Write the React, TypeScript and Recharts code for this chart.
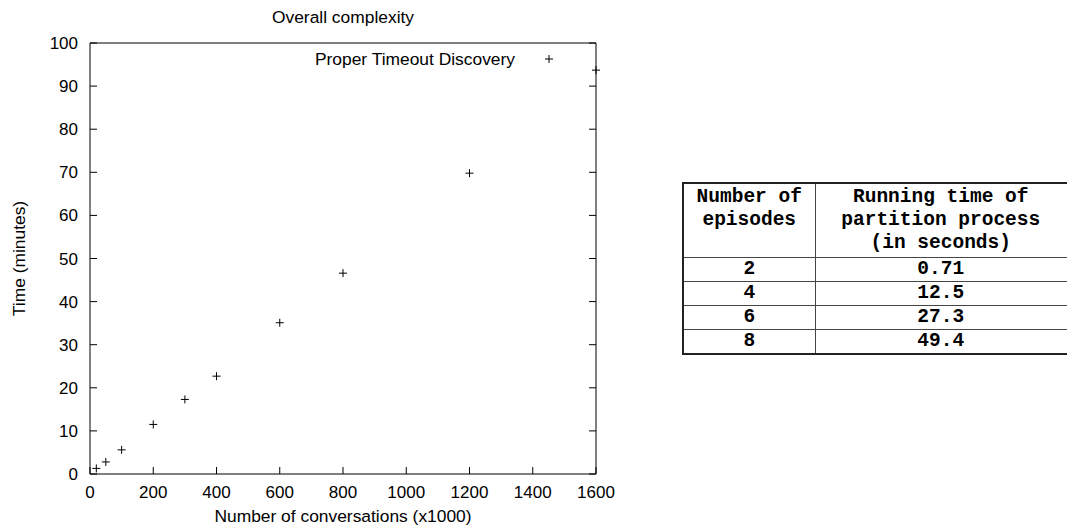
import React from "react";
import { ScatterChart, Scatter, XAxis, YAxis, Legend } from "recharts";

// measured values (x1000 conversations -> minutes)
const conversations = [20, 50, 100, 200, 300, 400, 600, 800, 1200, 1600];
const minutes = [1.3, 2.8, 5.6, 11.5, 17.3, 22.7, 35.1, 46.6, 69.8, 93.7];

const xTicks = [0, 200, 400, 600, 800, 1000, 1200, 1400, 1600];
const yTicks = [0, 10, 20, 30, 40, 50, 60, 70, 80, 90, 100];

// side table
const episodes = ["2", "4", "6", "8"];
const partitionSeconds = ["0.71", "12.5", "27.3", "49.4"];

const data = conversations.map((x, i) => ({ x, y: minutes[i] }));

const sans = '"Liberation Sans", Arial, Helvetica, sans-serif';
const mono = '"Liberation Mono", "Courier New", Courier, monospace';

const Plus = (props: any) => {
  const { cx, cy } = props;
  return (
    <g>
      <line x1={cx - 4} y1={cy} x2={cx + 4} y2={cy} stroke="#000" strokeWidth={1} />
      <line x1={cx} y1={cy - 4} x2={cx} y2={cy + 4} stroke="#000" strokeWidth={1} />
    </g>
  );
};

// mirrored axes: keep the tick marks, drop the numbers
const NoLabel = () => <g />;

const KeyContent = (props: any) => {
  const name = props.payload && props.payload.length ? props.payload[0].value : "";
  return (
    <div style={{ display: "flex", alignItems: "center", fontFamily: sans, fontSize: 17.4, lineHeight: "22px", color: "#000" }}>
      <span style={{ width: 215, textAlign: "right", whiteSpace: "nowrap" }}>{name}</span>
      <svg width={14} height={14} style={{ marginLeft: 27 }}>
        <line x1={3} y1={7} x2={11} y2={7} stroke="#000" />
        <line x1={7} y1={3} x2={7} y2={11} stroke="#000" />
      </svg>
    </div>
  );
};

const YLabel = (props: any) => {
  const vb = props.viewBox || { x: 0, y: 43, width: 90, height: 431 };
  const x = vb.x + 19;
  const y = vb.y + vb.height / 2;
  return (
    <text
      x={x}
      y={y}
      transform={`rotate(-90, ${x}, ${y})`}
      textAnchor="middle"
      dominantBaseline="central"
      fill="#000"
      fontSize={17.4}
      fontFamily={sans}
    >
      Time (minutes)
    </text>
  );
};

const axisLine = { stroke: "#000", strokeWidth: 1 };
const tickLine = { stroke: "#000", strokeWidth: 1 };
const tickStyle = { fill: "#000", fontSize: 17, fontFamily: sans };

const cellBorder = "1px solid #444";

export default function App() {
  return (
    <div
      style={{
        position: "absolute",
        left: 0,
        top: 0,
        width: 1067,
        height: 527,
        overflow: "hidden",
        background: "#fff",
        fontFamily: sans,
      }}
    >
      <ScatterChart width={620} height={527} margin={{ top: 42, right: 23, bottom: 0, left: 0 }}>
        <XAxis
          dataKey="x"
          type="number"
          domain={[0, 1600]}
          ticks={xTicks}
          interval={0}
          height={53}
          tickSize={-7}
          tickMargin={18.5}
          axisLine={axisLine}
          tickLine={tickLine}
          tick={tickStyle}
          label={{ value: "Number of conversations (x1000)", position: "insideBottom", offset: 5, fill: "#000", fontSize: 17.4 }}
        />
        <XAxis
          xAxisId="top"
          orientation="top"
          type="number"
          domain={[0, 1600]}
          allowDataOverflow
          ticks={xTicks}
          interval={0}
          height={1}
          tickSize={-7}
          axisLine={axisLine}
          tickLine={tickLine}
          tick={NoLabel}
          label={{ value: "Overall complexity", position: "top", offset: 19, fill: "#000", fontSize: 17.4 }}
        />
        <YAxis
          dataKey="y"
          type="number"
          domain={[0, 100]}
          ticks={yTicks}
          interval={0}
          width={90}
          tickSize={-7}
          tickMargin={19}
          axisLine={axisLine}
          tickLine={tickLine}
          tick={tickStyle}
          label={{ content: YLabel }}
        />
        <YAxis
          yAxisId="right"
          orientation="right"
          type="number"
          domain={[0, 100]}
          allowDataOverflow
          ticks={yTicks}
          interval={0}
          width={1}
          tickSize={-7}
          axisLine={axisLine}
          tickLine={tickLine}
          tick={NoLabel}
        />
        <Legend
          layout="horizontal"
          verticalAlign="middle"
          align="center"
          wrapperStyle={{ left: 300, top: 48, width: 270 }}
          content={KeyContent}
        />
        <Scatter
          name="Proper Timeout Discovery"
          data={data}
          fill="#000"
          shape={Plus}
          isAnimationActive={false}
        />
      </ScatterChart>

      <div style={{ position: "absolute", left: 682, top: 182, width: 460 }}>
        <table
          style={{
            width: 432,
            borderCollapse: "collapse",
            tableLayout: "fixed",
            fontFamily: mono,
            fontWeight: "bold",
            fontSize: 19.5,
            lineHeight: "23px",
            color: "#000",
            border: "2px solid #222",
          }}
        >
          <colgroup>
            <col style={{ width: 132 }} />
            <col style={{ width: 300 }} />
          </colgroup>
          <thead>
            <tr style={{ height: 74 }}>
              <th style={{ border: cellBorder, verticalAlign: "top", padding: "2px 0 0 0", fontWeight: "bold" }}>
                Number of
                <br />
                episodes
              </th>
              <th style={{ border: cellBorder, verticalAlign: "top", padding: "2px 48px 0 0", fontWeight: "bold" }}>
                Running time of
                <br />
                partition process
                <br />
                (in seconds)
              </th>
            </tr>
          </thead>
          <tbody>
            {episodes.map((e, i) => (
              <tr key={e} style={{ height: 23.5 }}>
                <td style={{ border: cellBorder, textAlign: "center", padding: 0 }}>{e}</td>
                <td style={{ border: cellBorder, textAlign: "center", padding: "0 48px 0 0" }}>
                  {partitionSeconds[i]}
                </td>
              </tr>
            ))}
          </tbody>
        </table>
      </div>
    </div>
  );
}
